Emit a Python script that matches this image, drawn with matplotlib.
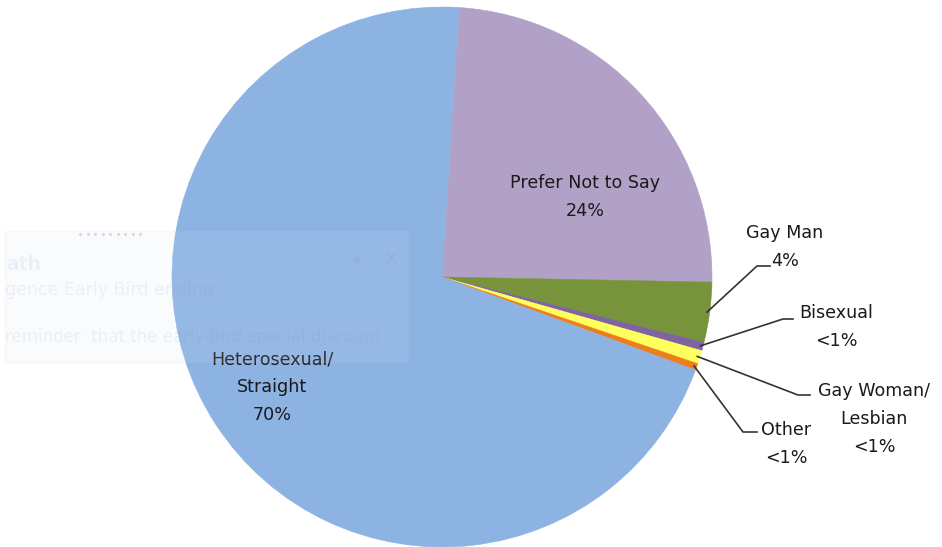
import matplotlib.pyplot as plt
from matplotlib.patches import Rectangle
import numpy as np

plt.rcParams['font.family'] = ['DejaVu Sans']

# survey shares, clockwise from 12 o'clock
labels = ["Prefer Not to Say", "Gay Man", "Bisexual", "Gay Woman/\nLesbian", "Other", "Heterosexual/\nStraight"]
shares = [24.3, 3.6, 0.5, 0.8, 0.4, 70.4]
pct_text = ["24%", "4%", "<1%", "<1%", "<1%", "70%"]
colors = ["#B2A1C7", "#77933C", "#8064A2", "#FFFF5E", "#EE7D1E", "#8DB3E2"]

W, H = 942, 547
fig = plt.figure(figsize=(W / 100, H / 100), dpi=100)
fig.patch.set_facecolor("white")

# pie: centre (442, 277) px, radius 270 px
cx, cy, R = 442, 277, 270
ax = fig.add_axes([(cx - R) / W, (H - cy - R) / H, 2 * R / W, 2 * R / H])
wedges, _ = ax.pie(shares, colors=colors, startangle=86.4, counterclock=False,
                   radius=1.0, wedgeprops=dict(linewidth=0))
for w in wedges:
    w.set_edgecolor(w.get_facecolor())
    w.set_linewidth(0.4)
ax.set_xlim(-1, 1)
ax.set_ylim(-1, 1)
ax.set_aspect("equal")
ax.axis("off")


def px(x, y):
    # pixel position -> pie data coords
    return (x - cx) / R, (cy - y) / R


txt_kw = dict(fontsize=12.6, color="#1A1A1A", ha="center", va="center", linespacing=1.7)

# labels inside the two big slices
ax.text(*px(585, 197), labels[0] + "\n" + pct_text[0], **txt_kw)
ax.text(*px(272, 387), labels[5] + "\n" + pct_text[5], **txt_kw)

# small slices: leader lines from the slice middle out to the label
angles = []
start = 86.4
for s in shares:
    span = s / 100 * 360
    angles.append(start - span / 2)
    start -= span

leaders = {
    1: ((757, 266), (770, 266), (785, 247)),
    2: ((783, 319), (793, 319), (836, 327)),
    3: ((798, 395), (810, 395), (874, 419)),
    4: ((743, 432), (757, 432), (786, 444)),
}
for i, (elbow, end, tpos) in leaders.items():
    a = np.radians(angles[i])
    x0, y0 = 0.99 * np.cos(a), 0.99 * np.sin(a)
    ex, ey = px(*elbow)
    fx, fy = px(*end)
    ax.plot([x0, ex, fx], [y0, ey, fy], color="#333333", lw=1.2, clip_on=False)
    ax.text(*px(*tpos), labels[i] + "\n" + pct_text[i], **txt_kw)

# faded notification panel lying over the left side
ov = fig.add_axes([0, 0, 1, 1], facecolor="none")
ov.set_xlim(0, W)
ov.set_ylim(H, 0)
ov.axis("off")
panel = Rectangle((5, 231), 403, 131, facecolor="#D8E2F6", edgecolor="#C9D4EC",
                  lw=1, alpha=0.12)
ov.add_patch(panel)
faint = dict(color="#6F86BA", alpha=0.1, va="center", ha="left", fontsize=12.5)
for t, (x, y, kw) in {
    "ath": (6, 265, dict(fontweight="bold", fontsize=13.5)),
    "gence Early Bird ending": (5, 290, {}),
    "reminder  that the early-bird special discount": (5, 337, dict(fontsize=12)),
}.items():
    ov.text(x, y, t, **{**faint, **kw})
ov.text(357, 260, "\u25BE", color="#6F86BA", alpha=0.12, fontsize=13, ha="center", va="center")
ov.text(391, 259, "\u2715", color="#6F86BA", alpha=0.12, fontsize=13, ha="center", va="center")
ov.scatter(np.arange(80, 142, 7.5), [234] * 9, s=2, color="#8FA0C8", alpha=0.25)

fig.savefig("out.png", dpi=100, facecolor="white")
